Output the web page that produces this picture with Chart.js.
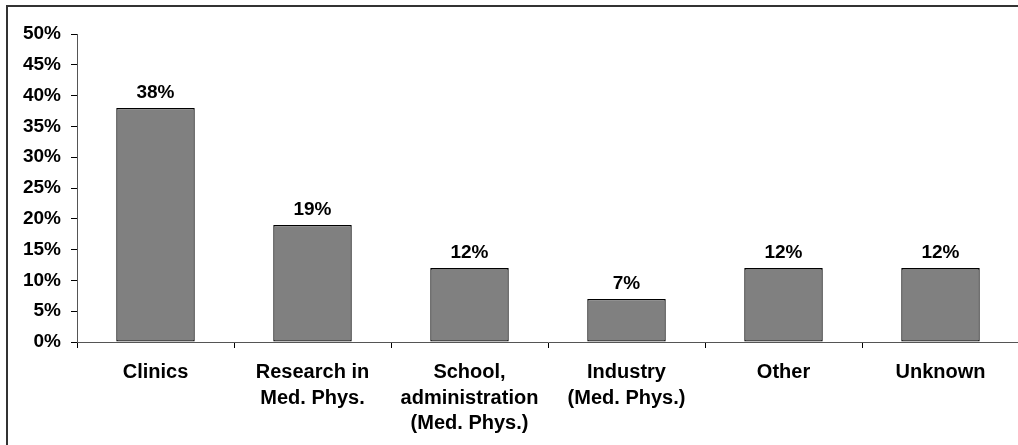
<!DOCTYPE html>
<html>
<head>
<meta charset="utf-8">
<script src="https://cdn.jsdelivr.net/npm/chart.js@4"></script>
<style>
  html, body { margin: 0; padding: 0; background: #fff; overflow: hidden; }
  #wrap { position: relative; width: 1018px; height: 445px; overflow: hidden; }
  #frame { position: absolute; left: 6px; top: 5px; width: 1100px; height: 500px;
           border-top: 2px solid #333; border-left: 2px solid #333; pointer-events: none; }
  canvas { position: absolute; left: 0; top: 0; }
</style>
</head>
<body>
<div id="wrap">
  <canvas id="chart" width="1025" height="445"></canvas>
  <div id="frame"></div>
</div>
<script>
  // categories and values
  let categories = [
    'Clinics',
    ['Research in', 'Med. Phys.'],
    ['School,', 'administration', '(Med. Phys.)'],
    ['Industry', '(Med. Phys.)'],
    'Other',
    'Unknown'
  ];
  let shares = [38, 19, 12, 7, 12, 12];
  let yTicks = [0, 5, 10, 15, 20, 25, 30, 35, 40, 45, 50];

  let fontFamily = 'Arial, "Liberation Sans", sans-serif';

  // percent labels above each bar
  let barLabels = {
    id: 'barLabels',
    afterDatasetsDraw(chart) {
      let ctx = chart.ctx;
      let meta = chart.getDatasetMeta(0);
      ctx.save();
      ctx.font = 'bold 19px ' + fontFamily;
      ctx.fillStyle = '#000';
      ctx.textAlign = 'center';
      ctx.textBaseline = 'alphabetic';
      meta.data.forEach(function(bar, i) {
        ctx.fillText(shares[i] + '%', bar.x, bar.y - 10);
      });
      ctx.restore();
    }
  };

  let ctx = document.getElementById('chart').getContext('2d');
  new Chart(ctx, {
    type: 'bar',
    data: {
      labels: categories,
      datasets: [{
        data: shares,
        backgroundColor: '#808080',
        borderColor: '#000',
        borderWidth: 1.3,
        borderSkipped: false,
        barPercentage: 0.5,
        categoryPercentage: 1.0
      }]
    },
    options: {
      responsive: false,
      animation: false,
      layout: { padding: { top: 34, right: 6, bottom: 0, left: 0 } },
      plugins: { legend: { display: false }, tooltip: { enabled: false } },
      scales: {
        x: {
          offset: true,
          grid: {
            offset: true,
            drawOnChartArea: false,
            drawTicks: true,
            tickLength: 6,
            color: '#000'
          },
          border: { color: '#555', width: 1 },
          ticks: {
            color: '#000',
            padding: 12,
            maxRotation: 0,
            autoSkip: false,
            font: { family: fontFamily, size: 20, weight: 'bold', lineHeight: 1.27 }
          },
          afterFit(scale) { scale.height = 103; }
        },
        y: {
          min: 0,
          max: 50,
          afterBuildTicks(scale) {
            scale.ticks = yTicks.map(function(v) { return { value: v }; });
          },
          grid: {
            drawOnChartArea: false,
            drawTicks: true,
            tickLength: 6,
            color: '#000'
          },
          border: { color: '#555', width: 1 },
          ticks: {
            color: '#000',
            padding: 10,
            font: { family: fontFamily, size: 19, weight: 'bold' },
            callback: function(v) { return v + '%'; }
          },
          afterFit(scale) { scale.width = 77; }
        }
      }
    },
    plugins: [barLabels]
  });
</script>
</body>
</html>
